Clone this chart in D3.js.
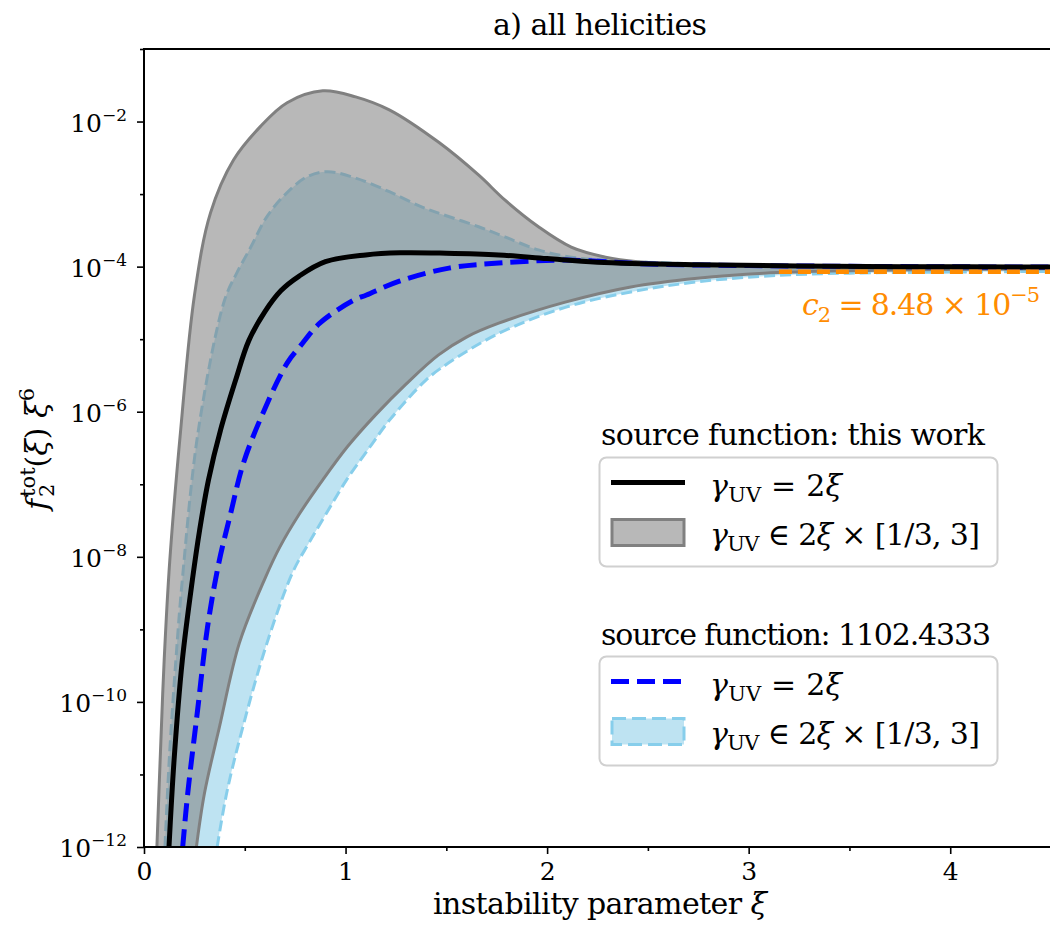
<!DOCTYPE html>
<html>
<head>
<meta charset="utf-8">
<script src="https://cdn.jsdelivr.net/npm/d3@7"></script>
<style>
  html, body { margin: 0; padding: 0; background: #fff; }
</style>
</head>
<body>
<svg id="chart" width="1050" height="930"></svg>
<script>
// ---- data: [xi, f2tot * xi^6] ----
const thisWorkCentral = [
  [0.124, 1.0e-12], [0.149, 1.55e-11], [0.19, 3.72e-10], [0.24, 4.79e-9],
  [0.276, 2.34e-8], [0.32, 1.15e-7], [0.38, 5.62e-7], [0.455, 2.75e-6],
  [0.52, 9.55e-6], [0.60, 2.40e-5], [0.68, 4.68e-5], [0.77, 7.41e-5],
  [0.90, 1.17e-4], [1.10, 1.45e-4], [1.27, 1.55e-4], [1.50, 1.53e-4],
  [1.76, 1.45e-4], [2.00, 1.29e-4], [2.25, 1.15e-4], [2.75, 1.06e-4],
  [3.25, 1.02e-4], [3.75, 1.0e-4], [4.5, 9.9e-5]
];
const thisWorkUpper = [
  [0.064, 1.0e-12], [0.08, 1.55e-11], [0.10, 3.72e-10], [0.128, 8.91e-9],
  [0.182, 5.62e-7], [0.25, 3.98e-5], [0.33, 5.5e-4], [0.444, 2.95e-3],
  [0.577, 8.51e-3], [0.71, 1.82e-2], [0.887, 2.65e-2], [1.05, 2.19e-2],
  [1.217, 1.45e-2], [1.464, 5.13e-3], [1.661, 1.82e-3], [1.79, 8.32e-4],
  [1.957, 3.55e-4], [2.12, 1.86e-4], [2.29, 1.35e-4], [2.45, 1.17e-4],
  [2.75, 1.08e-4], [3.0, 1.05e-4], [3.5, 1.02e-4], [4.0, 1.01e-4], [4.5, 1.0e-4]
];
const thisWorkLower = [
  [0.26, 1.0e-12], [0.30, 5.5e-12], [0.374, 4.47e-11], [0.473, 6.46e-10],
  [0.60, 5.01e-9], [0.675, 1.38e-8], [0.773, 3.98e-8], [0.887, 1.15e-7],
  [1.01, 3.31e-7], [1.15, 9.12e-7], [1.30, 2.40e-6], [1.46, 6.03e-6],
  [1.60, 1.07e-5], [1.76, 1.66e-5], [2.09, 3.24e-5], [2.415, 5.25e-5],
  [2.745, 6.92e-5], [3.075, 8.13e-5], [3.5, 8.81e-5], [4.0, 9.12e-5], [4.5, 9.33e-5]
];
const refCentral = [
  [0.192, 1.0e-12], [0.217, 5.5e-12], [0.266, 7.76e-11], [0.315, 1.07e-9],
  [0.37, 7.94e-9], [0.43, 3.98e-8], [0.493, 1.95e-7], [0.59, 9.55e-7],
  [0.71, 4.68e-6], [0.774, 7.94e-6], [0.872, 1.66e-5], [1.035, 3.39e-5],
  [1.104, 4.07e-5], [1.267, 6.31e-5], [1.513, 9.55e-5], [1.76, 1.12e-4],
  [2.09, 1.23e-4], [2.5, 1.09e-4], [3.0, 1.035e-4], [3.5, 1.01e-4],
  [4.0, 9.95e-5], [4.5, 9.85e-5]
];
const refUpper = [
  [0.104, 1.0e-12], [0.125, 1.55e-11], [0.158, 3.72e-10], [0.19, 4.79e-9],
  [0.27, 5.62e-7], [0.40, 3.47e-5], [0.46, 8.13e-5], [0.53, 1.86e-4],
  [0.61, 4.9e-4], [0.71, 1.05e-3], [0.81, 1.74e-3], [0.91, 2.04e-3],
  [1.05, 1.66e-3], [1.22, 1.07e-3], [1.38, 6.61e-4], [1.48, 5.25e-4],
  [1.66, 3.55e-4], [1.79, 2.57e-4], [1.957, 1.70e-4], [2.12, 1.35e-4],
  [2.29, 1.23e-4], [2.6, 1.12e-4], [3.0, 1.05e-4], [3.5, 1.01e-4],
  [4.0, 1.0e-4], [4.5, 9.9e-5]
];
const refLower = [
  [0.363, 1.0e-12], [0.41, 5.5e-12], [0.49, 4.47e-11], [0.61, 6.46e-10],
  [0.74, 6.31e-9], [0.82, 1.58e-8], [0.905, 3.98e-8], [1.005, 1.15e-7],
  [1.12, 3.24e-7], [1.217, 7.59e-7], [1.40, 2.75e-6], [1.51, 4.68e-6],
  [1.76, 1.20e-5], [2.09, 2.75e-5], [2.415, 4.47e-5], [2.745, 6.17e-5],
  [3.15, 7.59e-5], [3.5, 8.13e-5], [4.0, 8.41e-5], [4.5, 8.61e-5]
];
const c2Value = 8.48e-5;
const c2Range = [3.15, 4.5];

const xTicks = [0, 1, 2, 3, 4];
const xMinorTicks = [0.5, 1.5, 2.5, 3.5, 4.5];
const yTickExponents = [-12, -10, -8, -6, -4, -2];
const yMinorExponents = [-11, -9, -7, -5, -3, -1];

const FAMILY = `"DejaVu Serif", "Liberation Serif", "Noto Serif", serif`;

// ---- layout ----
const plot = { left: 144, right: 1051, top: 49, bottom: 847 };
const FONT = 30, TICKFONT = 25, SMALL = 21;

const svg = d3.select("#chart");
const x = d3.scaleLinear().domain([0, 4.5]).range([plot.left, plot.right]);
const y = d3.scaleLog().domain([1e-12, 1e-1]).range([plot.bottom, plot.top]);

svg.append("defs").append("clipPath").attr("id", "plotClip")
  .append("rect")
  .attr("x", plot.left).attr("y", plot.top)
  .attr("width", plot.right - plot.left).attr("height", plot.bottom - plot.top);

const line = d3.line().x(d => x(d[0])).y(d => y(d[1])).curve(d3.curveCatmullRom.alpha(0.5));
function bandPath(upper, lower) {
  return line(upper) + "L" + line(lower.slice().reverse()).slice(1) + "Z";
}

const g = svg.append("g").attr("clip-path", "url(#plotClip)");

// 1102.4333 band
g.append("path").attr("d", bandPath(refUpper, refLower))
  .attr("fill", "#bee3f2").attr("stroke", "none");
[refUpper, refLower].forEach(edge => {
  g.append("path").attr("d", line(edge)).attr("fill", "none")
    .attr("stroke", "#87ceeb").attr("stroke-width", 3)
    .attr("stroke-dasharray", "11,5");
});

// this-work band
g.append("path").attr("d", bandPath(thisWorkUpper, thisWorkLower))
  .attr("fill", "rgb(128,128,128)").attr("fill-opacity", 0.56).attr("stroke", "none");
[thisWorkUpper, thisWorkLower].forEach(edge => {
  g.append("path").attr("d", line(edge)).attr("fill", "none")
    .attr("stroke", "#808080").attr("stroke-width", 3);
});

// central curves
g.append("path").attr("d", line(refCentral)).attr("fill", "none")
  .attr("stroke", "#0000ff").attr("stroke-width", 5)
  .attr("stroke-dasharray", "18,8");
g.append("path").attr("d", line(thisWorkCentral)).attr("fill", "none")
  .attr("stroke", "#000").attr("stroke-width", 5);

// asymptote c2
g.append("line")
  .attr("x1", x(c2Range[0])).attr("x2", x(c2Range[1]))
  .attr("y1", y(c2Value)).attr("y2", y(c2Value))
  .attr("stroke", "#ff8c00").attr("stroke-width", 4.5)
  .attr("stroke-dasharray", "13,6");

// ---- axes ----
const xAxis = svg.append("g").attr("transform", `translate(0,${plot.bottom})`)
  .call(d3.axisBottom(x).tickValues(xTicks).tickSize(7).tickPadding(8).tickFormat(d3.format("d")));
const xMinor = svg.append("g").attr("transform", `translate(0,${plot.bottom})`)
  .call(d3.axisBottom(x).tickValues(xMinorTicks).tickSize(4).tickFormat(""));
const yAxis = svg.append("g").attr("transform", `translate(${plot.left},0)`)
  .call(d3.axisLeft(y).tickValues(yTickExponents.map(e => Math.pow(10, e))).tickSize(7).tickFormat(""));
const yMinor = svg.append("g").attr("transform", `translate(${plot.left},0)`)
  .call(d3.axisLeft(y).tickValues(yMinorExponents.map(e => Math.pow(10, e))).tickSize(4).tickFormat(""));

[xAxis, xMinor, yAxis, yMinor].forEach(a => {
  a.select(".domain").remove();
  a.selectAll(".tick line").attr("stroke", "#000").attr("stroke-width", 1.6);
});
xAxis.selectAll(".tick text").attr("font-size", TICKFONT).attr("fill", "#000");

yTickExponents.forEach(e => {
  const t = svg.append("text")
    .attr("x", 127).attr("y", y(Math.pow(10, e)) + 10)
    .attr("text-anchor", "end").attr("font-size", TICKFONT);
  t.append("tspan").text("10");
  t.append("tspan").attr("font-size", 17).attr("dy", -11).text("\u2212" + Math.abs(e));
});

// spines (left, bottom, top)
const spines = svg.append("g").attr("stroke", "#000").attr("stroke-width", 2).attr("stroke-linecap", "square");
spines.append("line").attr("x1", plot.left).attr("x2", plot.left).attr("y1", plot.top).attr("y2", plot.bottom);
spines.append("line").attr("x1", plot.left).attr("x2", 1052).attr("y1", plot.bottom).attr("y2", plot.bottom);
spines.append("line").attr("x1", plot.left).attr("x2", 1052).attr("y1", plot.top).attr("y2", plot.top);

// ---- titles and labels ----
svg.append("text").attr("x", 600).attr("y", 35).attr("text-anchor", "middle")
  .attr("font-size", FONT).attr("textLength", 214).text("a) all helicities");

const xl = svg.append("text").attr("x", 600).attr("y", 914).attr("text-anchor", "middle")
  .attr("font-size", FONT).attr("textLength", 334);
xl.append("tspan").text("instability parameter ");
xl.append("tspan").attr("font-style", "italic").text("\u03be");

// y label with stacked sub/superscript
const probe = svg.append("text").attr("font-size", SMALL).style("font-family", FAMILY).text("2");
const w2 = probe.node().getComputedTextLength();
probe.remove();
const yl = svg.append("text")
  .attr("transform", `translate(47,449) rotate(-90)`)
  .attr("text-anchor", "middle").attr("font-size", FONT);
yl.append("tspan").attr("font-style", "italic").text("f");
yl.append("tspan").attr("font-size", SMALL).attr("dy", 7).attr("dx", 2).text("2");
yl.append("tspan").attr("font-size", SMALL).attr("dy", -19).attr("dx", -w2).text("tot");
yl.append("tspan").attr("dy", 12).text("(");
yl.append("tspan").attr("font-style", "italic").text("\u03be");
yl.append("tspan").text(") ");
yl.append("tspan").attr("font-style", "italic").text("\u03be");
yl.append("tspan").attr("font-size", SMALL).attr("dy", -13).text("6");

// c2 annotation
const c2t = svg.append("text").attr("x", 1040).attr("y", 315).attr("text-anchor", "end")
  .attr("font-size", FONT).attr("fill", "#ff8c00").attr("textLength", 238);
c2t.append("tspan").attr("font-style", "italic").text("c");
c2t.append("tspan").attr("font-size", SMALL).attr("dy", 7).text("2");
c2t.append("tspan").attr("dy", -7).text(" = 8.48 \u00d7 10");
c2t.append("tspan").attr("font-size", SMALL).attr("dy", -13).text("\u22125");

// ---- legends ----
function gammaLabel(sel, xPos, yPos, rest, len) {
  const t = sel.append("text").attr("x", xPos).attr("y", yPos).attr("font-size", FONT)
    .attr("textLength", len);
  t.append("tspan").attr("font-style", "italic").text("\u03b3");
  t.append("tspan").attr("font-size", SMALL).attr("dy", 6).text("UV");
  t.append("tspan").attr("dy", -6).text(rest[0]);
  t.append("tspan").attr("font-style", "italic").text("\u03be");
  if (rest[1]) t.append("tspan").text(rest[1]);
  return t;
}

const legendTitles = ["source function: this work", "source function: 1102.4333"];
const legendTitleLen = [384, 390];
const legendTop = [457.5, 656.5];
const legendTitleY = [445, 645];

legendTitles.forEach((title, i) => {
  const lg = svg.append("g");
  lg.append("text").attr("x", 601).attr("y", legendTitleY[i]).attr("font-size", FONT)
    .attr("textLength", legendTitleLen[i]).text(title);
  const top = legendTop[i];
  lg.append("rect").attr("x", 599.5).attr("y", top).attr("width", 398).attr("height", 109)
    .attr("rx", 7).attr("fill", "#fff").attr("stroke", "#d0d0d0").attr("stroke-width", 2);
  const rowLineY = top + 25, rowPatchY = top + 62;
  if (i === 0) {
    lg.append("line").attr("x1", 611).attr("x2", 685).attr("y1", rowLineY).attr("y2", rowLineY)
      .attr("stroke", "#000").attr("stroke-width", 5);
    lg.append("rect").attr("x", 612).attr("y", rowPatchY).attr("width", 72).attr("height", 26)
      .attr("fill", "rgb(184,184,184)").attr("stroke", "#808080").attr("stroke-width", 3);
  } else {
    lg.append("line").attr("x1", 611).attr("x2", 685).attr("y1", rowLineY).attr("y2", rowLineY)
      .attr("stroke", "#0000ff").attr("stroke-width", 5).attr("stroke-dasharray", "18,8");
    lg.append("rect").attr("x", 612).attr("y", rowPatchY).attr("width", 72).attr("height", 26)
      .attr("fill", "#bee3f2").attr("stroke", "#87ceeb").attr("stroke-width", 3)
      .attr("stroke-dasharray", "14,6");
  }
  gammaLabel(lg, 710, top + 38, [" = 2"], 132);
  gammaLabel(lg, 710, top + 87, [" \u2208 2", " \u00d7 [1/3, 3]"], 270);
});

// one serif face for every label
svg.selectAll("text").style("font-family", FAMILY);
</script>
</body>
</html>
